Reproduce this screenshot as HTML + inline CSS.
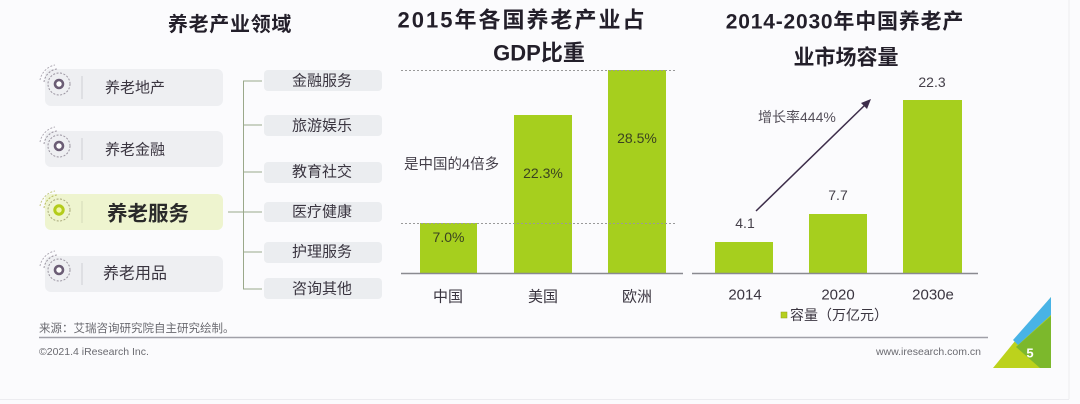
<!DOCTYPE html>
<html><head><meta charset="utf-8">
<style>
html,body{margin:0;padding:0;background:#fbfbfd;}
svg{display:block;}
text{font-family:"Liberation Sans","Noto Sans CJK SC",sans-serif;}
</style></head>
<body>
<svg width="1080" height="404" viewBox="0 0 1080 404" xmlns="http://www.w3.org/2000/svg">
<rect x="0" y="0" width="1080" height="404" fill="#fbfbfd"/>
<line x1="1069" y1="0" x2="1069" y2="399" stroke="#ececf0" stroke-width="1"/>
<line x1="0" y1="399.5" x2="1069" y2="399.5" stroke="#ececf0" stroke-width="1"/>

<!-- ===== Left panel ===== -->
<text x="230" y="25" font-size="20" font-weight="bold" fill="#231f2a" text-anchor="middle" dominant-baseline="central" letter-spacing="0.7">养老产业领域</text>

<!-- left boxes -->
<g>
  <rect x="45" y="69" width="178" height="37" rx="6" fill="#eeeff2"/>
  <rect x="45" y="131" width="178" height="36" rx="6" fill="#eeeff2"/>
  <rect x="45" y="194" width="178" height="36" rx="6" fill="#eef4cf"/>
  <rect x="45" y="256" width="178" height="36" rx="6" fill="#eeeff2"/>
  <line x1="82" y1="76" x2="82" y2="99" stroke="#cfcfd4" stroke-width="1"/>
  <line x1="82" y1="138" x2="82" y2="160" stroke="#cfcfd4" stroke-width="1"/>
  <line x1="82" y1="201" x2="82" y2="223" stroke="#d4dab8" stroke-width="1"/>
  <line x1="82" y1="263" x2="82" y2="285" stroke="#cfcfd4" stroke-width="1"/>
</g>

<!-- icons -->
<g fill="none">
  <g transform="translate(59,84)">
    <circle r="11" stroke="#9a94a0" stroke-width="1" stroke-dasharray="2 1.5"/>
    <path d="M -15 -2 A 15 15 0 0 1 -2 -15" stroke="#9a94a0" stroke-width="1" stroke-dasharray="2 1.5"/>
    <path d="M -19 -4 A 19 19 0 0 1 -4 -19" stroke="#b0abb5" stroke-width="1" stroke-dasharray="2 1.5"/>
    <circle r="4" stroke="#6b5d75" stroke-width="2.6" fill="#fff"/>
  </g>
  <g transform="translate(59,146)">
    <circle r="11" stroke="#9a94a0" stroke-width="1" stroke-dasharray="2 1.5"/>
    <path d="M -15 -2 A 15 15 0 0 1 -2 -15" stroke="#9a94a0" stroke-width="1" stroke-dasharray="2 1.5"/>
    <path d="M -19 -4 A 19 19 0 0 1 -4 -19" stroke="#b0abb5" stroke-width="1" stroke-dasharray="2 1.5"/>
    <circle r="4" stroke="#6b5d75" stroke-width="2.6" fill="#fff"/>
  </g>
  <g transform="translate(59,210)">
    <circle r="11" stroke="#a8a878" stroke-width="1" stroke-dasharray="2 1.5"/>
    <path d="M -15 -2 A 15 15 0 0 1 -2 -15" stroke="#b8bc60" stroke-width="1" stroke-dasharray="2 1.5"/>
    <path d="M -19 -4 A 19 19 0 0 1 -4 -19" stroke="#c4c880" stroke-width="1" stroke-dasharray="2 1.5"/>
    <circle r="4.2" stroke="#b3cc1a" stroke-width="3" fill="#f0f6a8"/>
  </g>
  <g transform="translate(59,270)">
    <circle r="11" stroke="#9a94a0" stroke-width="1" stroke-dasharray="2 1.5"/>
    <path d="M -15 -2 A 15 15 0 0 1 -2 -15" stroke="#9a94a0" stroke-width="1" stroke-dasharray="2 1.5"/>
    <path d="M -19 -4 A 19 19 0 0 1 -4 -19" stroke="#b0abb5" stroke-width="1" stroke-dasharray="2 1.5"/>
    <circle r="4" stroke="#6b5d75" stroke-width="2.6" fill="#fff"/>
  </g>
</g>

<text x="105" y="88" font-size="15" fill="#3a3540" dominant-baseline="central">养老地产</text>
<text x="105" y="150" font-size="15" fill="#3a3540" dominant-baseline="central">养老金融</text>
<text x="107" y="214" font-size="20.5" font-weight="bold" fill="#2a2a2a" dominant-baseline="central">养老服务</text>
<text x="103" y="274" font-size="16" fill="#3a3540" dominant-baseline="central">养老用品</text>

<!-- tree connector -->
<g stroke="#9aa88a" stroke-width="1" fill="none">
  <line x1="228" y1="212" x2="243" y2="212"/>
  <line x1="243.5" y1="81" x2="243.5" y2="289"/>
  <line x1="243" y1="81" x2="262" y2="81"/>
  <line x1="243" y1="125" x2="262" y2="125"/>
  <line x1="243" y1="172" x2="262" y2="172"/>
  <line x1="243" y1="212" x2="262" y2="212"/>
  <line x1="243" y1="252" x2="262" y2="252"/>
  <line x1="243" y1="289" x2="262" y2="289"/>
</g>

<!-- right boxes -->
<g fill="#ebedf0">
  <rect x="264" y="70" width="118" height="21" rx="4"/>
  <rect x="264" y="115" width="118" height="21" rx="4"/>
  <rect x="264" y="162" width="118" height="21" rx="4"/>
  <rect x="264" y="202" width="118" height="20" rx="4"/>
  <rect x="264" y="242" width="118" height="21" rx="4"/>
  <rect x="264" y="278" width="118" height="21" rx="4"/>
</g>
<g font-size="15" fill="#3a3540" text-anchor="middle" dominant-baseline="central">
  <text x="322" y="81">金融服务</text>
  <text x="322" y="126">旅游娱乐</text>
  <text x="322" y="172">教育社交</text>
  <text x="322" y="212">医疗健康</text>
  <text x="322" y="252">护理服务</text>
  <text x="322" y="289">咨询其他</text>
</g>

<!-- ===== Chart 2 ===== -->
<text x="522" y="20" font-size="22" font-weight="bold" fill="#231f2a" text-anchor="middle" dominant-baseline="central" letter-spacing="2">2015年各国养老产业占</text>
<text x="539" y="53" font-size="22" font-weight="bold" fill="#231f2a" text-anchor="middle" dominant-baseline="central">GDP比重</text>

<rect x="420" y="223" width="57" height="50" fill="#a6cf1e"/>
<rect x="514" y="115" width="58" height="158" fill="#a6cf1e"/>
<rect x="608" y="70" width="58" height="203" fill="#a6cf1e"/>

<line x1="401" y1="70.5" x2="676" y2="70.5" stroke="#999" stroke-width="1" stroke-dasharray="2 2"/>
<line x1="401" y1="223.5" x2="676" y2="223.5" stroke="#999" stroke-width="1" stroke-dasharray="2 2"/>
<line x1="401" y1="273.5" x2="683" y2="273.5" stroke="#8a8a90" stroke-width="1.5"/>

<g font-size="14" fill="#3a4220" text-anchor="middle" dominant-baseline="central">
  <text x="448.5" y="237">7.0%</text>
  <text x="543" y="173">22.3%</text>
  <text x="637" y="138">28.5%</text>
</g>
<text x="404" y="165" font-size="14.5" fill="#45404a" dominant-baseline="central">是中国的4倍多</text>
<g font-size="15" fill="#3a3540" text-anchor="middle" dominant-baseline="central">
  <text x="448" y="297">中国</text>
  <text x="543" y="297">美国</text>
  <text x="637" y="297">欧洲</text>
</g>

<!-- ===== Chart 3 ===== -->
<text x="845" y="22" font-size="21" font-weight="bold" fill="#231f2a" text-anchor="middle" dominant-baseline="central" letter-spacing="0.8">2014-2030年中国养老产</text>
<text x="846" y="58" font-size="21" font-weight="bold" fill="#231f2a" text-anchor="middle" dominant-baseline="central">业市场容量</text>

<rect x="715" y="242" width="58" height="31" fill="#a6cf1e"/>
<rect x="809" y="214" width="58" height="59" fill="#a6cf1e"/>
<rect x="903" y="100" width="59" height="173" fill="#a6cf1e"/>
<line x1="692" y1="273.5" x2="978" y2="273.5" stroke="#8a8a90" stroke-width="1.5"/>

<g font-size="14" fill="#45404a" text-anchor="middle" dominant-baseline="central">
  <text x="745" y="223">4.1</text>
  <text x="838" y="195">7.7</text>
  <text x="932" y="82">22.3</text>
</g>

<line x1="756" y1="211" x2="866" y2="104" stroke="#3d2d4a" stroke-width="1.5"/>
<polygon points="871,99 861,103 867,109" fill="#3d2d4a"/>
<text x="758" y="117" font-size="14" fill="#55505a" dominant-baseline="central">增长率444%</text>

<g font-size="15" fill="#3a3540" text-anchor="middle" dominant-baseline="central">
  <text x="745" y="295">2014</text>
  <text x="838" y="295">2020</text>
  <text x="933" y="295">2030e</text>
</g>
<rect x="781" y="312" width="6" height="6" fill="#b5cf1e" stroke="#8fa010" stroke-width="0.5"/>
<text x="790" y="315" font-size="14" fill="#3a3540" dominant-baseline="central">容量（万亿元）</text>

<!-- ===== Footer ===== -->
<text x="39" y="329" font-size="11.5" fill="#6a6a70" dominant-baseline="central">来源：艾瑞咨询研究院自主研究绘制。</text>
<line x1="39" y1="337.5" x2="988" y2="337.5" stroke="#a0a0a8" stroke-width="1.5"/>
<text x="39" y="352" font-size="10.5" fill="#6a6a70" dominant-baseline="central">©2021.4 iResearch Inc.</text>
<text x="981" y="352" font-size="10.5" fill="#6a6a70" text-anchor="end" dominant-baseline="central">www.iresearch.com.cn</text>

<!-- logo -->
<polygon points="993,368 1051,368 1051,297" fill="#bcd21c"/>
<polygon points="1016,347 1051,316 1051,368 1040,368" fill="#7cb82c"/>
<polygon points="1051,297 1051,315 1018,345 1013,340" fill="#48b3e6"/>
<text x="1030" y="353" font-size="13" font-weight="bold" fill="#ffffff" text-anchor="middle" dominant-baseline="central">5</text>
</svg>
</body></html>
